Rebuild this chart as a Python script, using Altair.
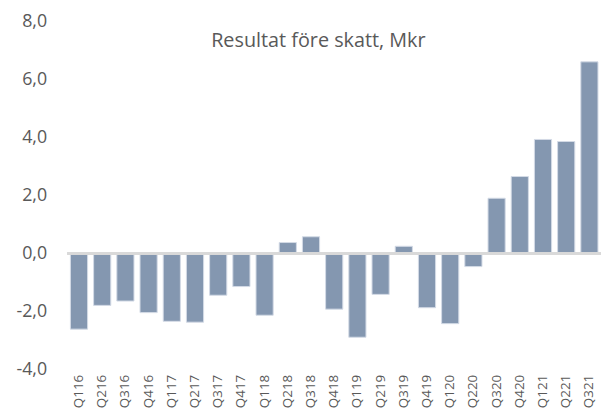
import altair as alt
import pandas as pd

quarters = ["Q116", "Q216", "Q316", "Q416", "Q117", "Q217", "Q317", "Q417",
            "Q118", "Q218", "Q318", "Q418", "Q119", "Q219", "Q319", "Q419",
            "Q120", "Q220", "Q320", "Q420", "Q121", "Q221", "Q321"]
values = [-2.61, -1.79, -1.64, -2.04, -2.34, -2.37, -1.44, -1.14,
          -2.13, 0.38, 0.58, -1.92, -2.89, -1.41, 0.25, -1.87,
          -2.42, -0.45, 1.91, 2.66, 3.94, 3.87, 6.62]
y_ticks = [-4, -2, 0, 2, 4, 6, 8]
title_text = "Resultat före skatt, Mkr"

df = pd.DataFrame({"q": quarters, "v": values})

FONT = "Open Sans"
GREY = "#595959"

x_enc = alt.X(
    "q:N", sort=quarters, title=None,
    scale=alt.Scale(paddingInner=0.26, paddingOuter=0.13),
    axis=alt.Axis(labelAngle=270, labelFontSize=13.5, labelColor=GREY, labelFont=FONT,
                  domain=False, ticks=False, labelPadding=5),
)
y_enc = alt.Y(
    "v:Q", title=None,
    scale=alt.Scale(domain=[-4, 8], nice=False),
    axis=alt.Axis(values=y_ticks, grid=False, domain=False, ticks=False,
                  labelFontSize=18, labelColor=GREY, labelFont=FONT, labelPadding=21,
                  labelExpr="(datum.value < 0 ? '-' : '') + replace(format(abs(datum.value), '.1f'), '.', ',')"),
)

bars = alt.Chart(df).mark_bar(color="#8497B0", stroke="#d3dbe6", strokeWidth=1).encode(
    x=x_enc, y=y_enc
)
zero = alt.Chart(df).mark_rule(color="#d9d9d9", strokeWidth=2.5).encode(y=alt.datum(0))

chart = alt.layer(bars, zero).properties(
    width=539, height=351,
    title=alt.TitleParams(title_text, font=FONT, fontSize=20, fontWeight="normal",
                          color=GREY, anchor="middle", dy=42, dx=-16),
    autosize=alt.AutoSizeParams(type="none"),
    padding={"left": 60, "top": 12, "right": 0, "bottom": 39},
).configure_view(stroke=None)

chart.save("out.html", embed_options={"renderer": "svg", "actions": False})
